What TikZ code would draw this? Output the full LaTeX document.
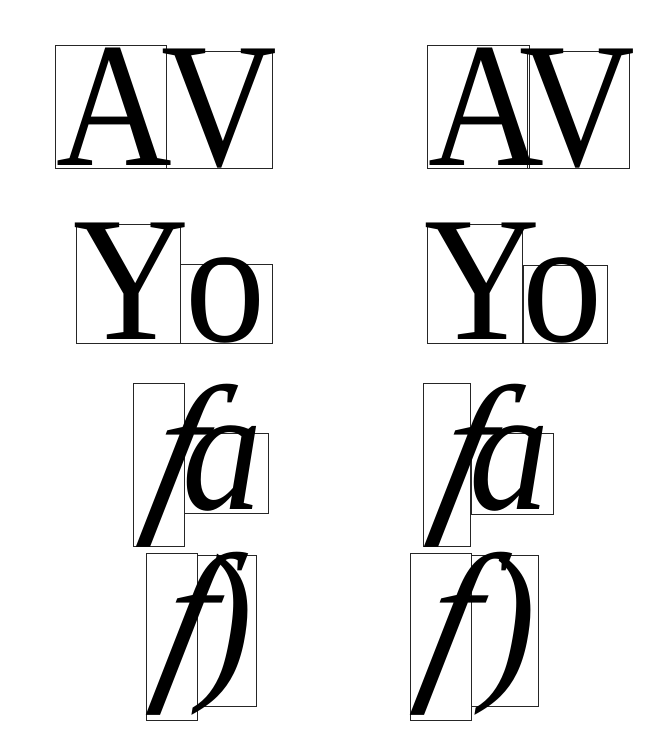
\documentclass[tikz,border=0pt]{standalone}
\usepackage{fontspec}
\setmainfont{Liberation Serif}

\tikzset{
  glyph/.style={inner sep=0pt, anchor=base west, xscale=0.9,
    font=\fontsize{178}{178}\selectfont},
  glyphit/.style={glyph, font=\fontsize{178}{178}\selectfont\itshape},
  glyphf/.style={glyphit, xscale=1.1, xslant=0.22},
  gbox/.style={draw=black!85, line width=0.8pt}
}

\begin{document}
\begin{tikzpicture}[x=1pt, y=-1pt]
  \useasboundingbox[fill=white] (0,0) rectangle (670,730);

  % AV without and with kerning
  \draw[gbox] (55,45) rectangle (166,168);
  \draw[gbox] (166,51) rectangle (272,168);
  \node[glyph] (avA) at (56,166) {A};
  \node[glyph] (avV) at (161,166) {V};
  \draw[gbox] (427,45) rectangle (529,168);
  \draw[gbox] (527,51) rectangle (629,168);
  \node[glyph] (kavA) at (428,166) {A};
  \node[glyph] (kavV) at (519,166) {V};

  % Yo
  \draw[gbox] (76,224) rectangle (180,343);
  \draw[gbox] (180,264) rectangle (272,343);
  \node[glyph] (yoY) at (73,339) {Y};
  \node[glyph] (yoO) at (185,341) {o};
  \draw[gbox] (427,224) rectangle (522,343);
  \draw[gbox] (523,265) rectangle (607,343);
  \node[glyph] (kyoY) at (424,339) {Y};
  \node[glyph] (kyoO) at (522,341) {o};

  % fa
  \draw[gbox] (133,383) rectangle (184,546);
  \draw[gbox] (184,433) rectangle (268,513);
  \node[glyphf] (faF) at (142,509) {f};
  \node[glyphit] (faA) at (182,509) {a};
  \draw[gbox] (423,383) rectangle (470,546);
  \draw[gbox] (471,433) rectangle (553,514);
  \node[glyphf] (kfaF) at (430,509) {f};
  \node[glyphit] (kfaA) at (469,509) {a};

  % f)
  \draw[gbox] (146,553) rectangle (197,720);
  \draw[gbox] (197,555) rectangle (256,706);
  \node[glyphf] (fpF) at (152,677) {f};
  \node[glyphit] (fpP) at (199,677) {)};
  \draw[gbox] (410,553) rectangle (471,720);
  \draw[gbox] (471,555) rectangle (538,706);
  \node[glyphf] (kfpF) at (416,677) {f};
  \node[glyphit] (kfpP) at (482,677) {)};
\end{tikzpicture}
\end{document}
